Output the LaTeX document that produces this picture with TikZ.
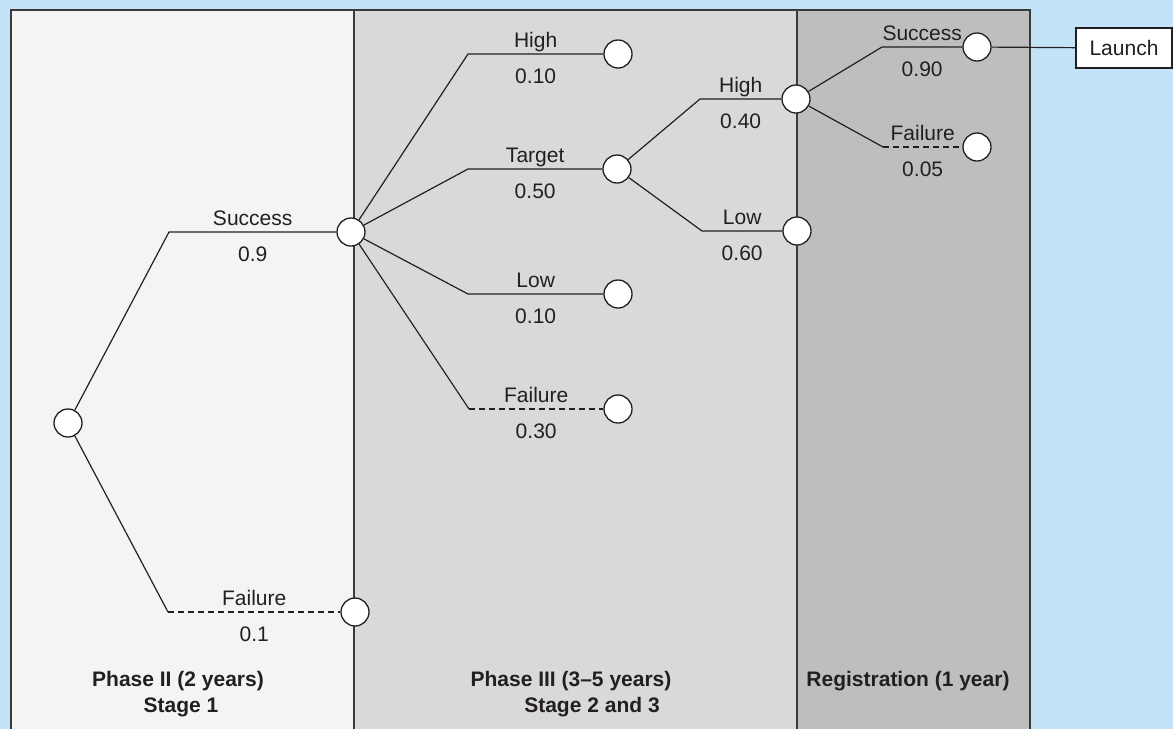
\documentclass[tikz,border=0pt]{standalone}
\usepackage{fontspec}
\setmainfont{Liberation Sans}
\definecolor{bgblue}{HTML}{C2E4F6}
\definecolor{panelA}{HTML}{F3F4F6}
\definecolor{panelB}{HTML}{D9D9D8}
\definecolor{panelC}{HTML}{BEBEBE}
\definecolor{border}{HTML}{3A3A3A}
\definecolor{ink}{HTML}{231F20}
\newcommand{\lblfont}{\fontsize{21}{25}\selectfont}
\begin{document}
\begin{tikzpicture}[x=1pt,y=-1pt,
  chance/.style={circle, draw=ink, fill=white, line width=1.3pt, minimum size=28pt, inner sep=0pt},
  branch/.style={draw=ink, line width=1.2pt},
  failbranch/.style={branch, dash pattern=on 6pt off 4pt},
  lblup/.style={anchor=base, yshift=7pt, text=ink, font=\lblfont, inner sep=0pt},
  lbldn/.style={anchor=base, yshift=-29pt, text=ink, font=\lblfont, inner sep=0pt},
  phase/.style={anchor=base, text=ink, font=\lblfont\bfseries, inner sep=0pt},
  endbox/.style={draw=ink, fill=white, line width=1.3pt, minimum width=96pt, minimum height=40pt, inner sep=0pt, text=ink, font=\lblfont}]
% background and panels
\fill[bgblue] (0,0) rectangle (1173,729);
\useasboundingbox (0,0) rectangle (1173,729);
\fill[panelA] (11,10) rectangle (354,729);
\fill[panelB] (354,10) rectangle (797,729);
\fill[panelC] (797,10) rectangle (1030,729);
\draw[border, line width=2pt] (11,729) -- (11,10) -- (1030,10) -- (1030,729);
\draw[border, line width=2pt] (354,10) -- (354,729);
\draw[border, line width=2pt] (797,10) -- (797,729);
% elbows
\coordinate (e1s) at (169,232);
\coordinate (e1f) at (168,612);
\coordinate (e2h) at (468,54);
\coordinate (e2t) at (468,169);
\coordinate (e2l) at (468,294);
\coordinate (e2f) at (469,409);
\coordinate (e3h) at (700,99);
\coordinate (e3l) at (702,231);
\coordinate (e4s) at (882,47);
\coordinate (e4f) at (883,147);
% nodes
\node[chance] (root) at (68,423) {};
\node[chance] (n2) at (351,232) {};
\node[chance] (f1) at (355,612) {};
\node[chance] (h2) at (618,54) {};
\node[chance] (t2) at (617,169) {};
\node[chance] (l2) at (618,294) {};
\node[chance] (f2) at (618,409) {};
\node[chance] (h3) at (796,99) {};
\node[chance] (l3) at (797,231) {};
\node[chance] (s4) at (977,47) {};
\node[chance] (f4) at (977,147) {};
\node[endbox] (launch) at (1124,48) {Launch};
% stage 1
\draw[branch] (root) -- (e1s) -- node[midway, lblup] {Success} node[midway, lbldn] {0.9} (n2);
\draw[branch] (root) -- (e1f);
\draw[failbranch] (e1f) -- node[midway, lblup] {Failure} node[midway, lbldn] {0.1} (f1);
% stage 2
\draw[branch] (n2) -- (e2h) -- node[midway, lblup] {High} node[midway, lbldn] {0.10} (h2);
\draw[branch] (n2) -- (e2t) -- node[midway, lblup] {Target} node[midway, lbldn] {0.50} (t2);
\draw[branch] (n2) -- (e2l) -- node[midway, lblup] {Low} node[midway, lbldn] {0.10} (l2);
\draw[branch] (n2) -- (e2f);
\draw[failbranch] (e2f) -- node[midway, lblup] {Failure} node[midway, lbldn] {0.30} (f2);
% stage 3
\draw[branch] (t2) -- (e3h) -- node[midway, lblup] {High} node[midway, lbldn] {0.40} (h3);
\draw[branch] (t2) -- (e3l) -- node[midway, lblup] {Low} node[midway, lbldn] {0.60} (l3);
% registration
\draw[branch] (h3) -- (e4s) -- node[midway, lblup] {Success} node[midway, lbldn] {0.90} (s4);
\draw[branch] (h3) -- (e4f);
\draw[failbranch] (e4f) -- node[midway, lblup] {Failure} node[midway, lbldn] {0.05} (f4);
\draw[branch] (s4) -- (launch);
% phase labels
\node[phase] (p1a) at (178,686) {Phase II (2 years)};
\node[phase] (p1b) at (181,712) {Stage 1};
\node[phase] (p2a) at (571,686) {Phase III (3–5 years)};
\node[phase] (p2b) at (592,712) {Stage 2 and 3};
\node[phase] (p3a) at (908,686) {Registration (1 year)};
\end{tikzpicture}
\end{document}
